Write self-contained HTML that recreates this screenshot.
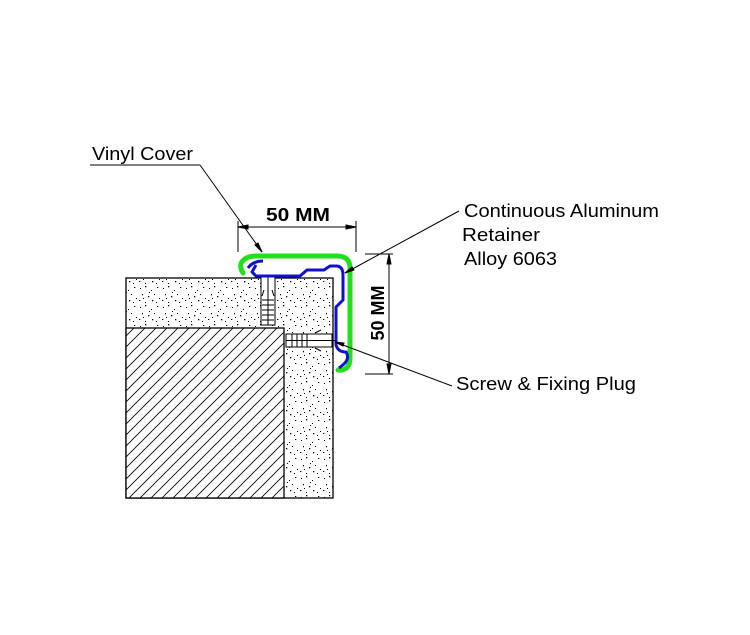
<!DOCTYPE html>
<html><head><style>html,body{margin:0;padding:0;background:#fff;}svg{display:block}</style></head>
<body>
<svg width="750" height="635" viewBox="0 0 750 635" xmlns="http://www.w3.org/2000/svg" font-family="Liberation Sans, Arial, sans-serif">
<defs>
<pattern id="dots" width="23" height="19" patternUnits="userSpaceOnUse">
<rect width="23" height="19" fill="#fff"/>
<g fill="#000">
<rect x="2" y="3" width="1" height="1"/><rect x="7" y="1" width="1.3" height="1.3"/><rect x="13" y="5" width="1" height="1"/><rect x="19" y="2" width="1.3" height="1"/>
<rect x="4" y="9" width="1" height="1.3"/><rect x="10" y="11" width="1.3" height="1.3"/><rect x="16" y="9" width="1" height="1"/><rect x="21" y="13" width="1" height="1"/>
<rect x="1" y="15" width="1.3" height="1"/><rect x="7" y="17" width="1" height="1"/><rect x="14" y="15" width="1.3" height="1.3"/><rect x="18" y="17" width="1" height="1"/>
<rect x="11" y="7" width="1" height="1"/><rect x="5" y="13" width="1" height="1"/>
</g>
</pattern>
<pattern id="hatch" width="11" height="11" patternUnits="userSpaceOnUse">
<rect width="11" height="11" fill="#fff"/>
<path d="M-2,13 L13,-2 M-2,2 L2,-2 M9,13 L13,9" stroke="#000" stroke-width="0.8"/>
</pattern>
</defs>

<rect x="126" y="278" width="207" height="220" fill="url(#dots)" stroke="#000" stroke-width="1.3"/>
<rect x="126" y="328" width="158" height="170" fill="url(#hatch)" stroke="#000" stroke-width="1.3"/>

<g stroke="#000" stroke-width="1" fill="#fff">
<rect x="261" y="277" width="14" height="48"/>
<line x1="268" y1="277" x2="268" y2="325"/>
<path d="M262,300 h12 M262,305 h12 M262,310 h12 M262,315 h12 M262,320 h12" fill="none"/>
<path d="M264,290 l-2,6 M272,290 l2,6" fill="none"/>
</g>
<g stroke="#000" stroke-width="1" fill="#fff">
<rect x="286" y="334" width="46" height="13"/>
<line x1="286" y1="340.5" x2="335" y2="340.5"/>
<path d="M292,334 v13 M297,334 v13 M302,334 v13 M307,334 v13" fill="none"/>
<path d="M315,333 l6,-3 M315,348 l6,3" fill="none"/>
</g>

<path d="M243,273 C236,262 246,256 256,256 L337,256 Q350,256 350,268 L350,358 Q350,371 338,370" fill="none" stroke="#22e01c" stroke-width="5" stroke-linecap="round"/>
<path d="M248,268 Q253,261 263,261 M256,265 L252,272 L256,276 L300,276 L307,270 L324,270 L330,266 L336,266 Q343,266 343,275 L343,300 L336,307 L336,345 Q338,352 346,352 Q350,358 344,364 L339,368" fill="none" stroke="#1010d0" stroke-width="3" stroke-linejoin="round"/>

<g stroke="#000" stroke-width="1" fill="#000">
<line x1="238" y1="221" x2="238" y2="252"/>
<line x1="356" y1="221" x2="356" y2="252"/>
<line x1="238" y1="227" x2="356" y2="227"/>
<path d="M238,227 l10,-2 v4z M356,227 l-10,-2 v4z"/>
<line x1="365" y1="254" x2="393" y2="254"/>
<line x1="365" y1="374" x2="393" y2="374"/>
<line x1="389" y1="254" x2="389" y2="374"/>
<path d="M389,254 l-2,10 h4z M389,374 l-2,-10 h4z"/>
</g>
<text x="266" y="221" font-size="18" font-weight="bold" textLength="64" lengthAdjust="spacingAndGlyphs">50 MM</text>
<text transform="translate(384,313) rotate(-90)" font-size="18" font-weight="bold" text-anchor="middle">50 MM</text>

<g stroke="#000" stroke-width="1" fill="#000">
<line x1="90" y1="165" x2="200" y2="165"/>
<line x1="200" y1="165" x2="262" y2="252"/>
<path d="M262,252 l-7,-7 l3,-2z"/>
<line x1="459" y1="211" x2="345" y2="273"/>
<path d="M345,273 l7,-6 l2,3z"/>
<line x1="452" y1="386" x2="335" y2="342"/>
<path d="M335,342 l9,1 l-1,3z"/>
</g>

<g font-size="18" fill="#000">
<text x="92" y="160" textLength="101" lengthAdjust="spacingAndGlyphs">Vinyl Cover</text>
<text x="464" y="217" textLength="195" lengthAdjust="spacingAndGlyphs">Continuous Aluminum</text>
<text x="462" y="241" textLength="78" lengthAdjust="spacingAndGlyphs">Retainer</text>
<text x="464" y="265" textLength="93" lengthAdjust="spacingAndGlyphs">Alloy 6063</text>
<text x="456" y="390" textLength="180" lengthAdjust="spacingAndGlyphs">Screw &amp; Fixing Plug</text>
</g>
</svg>
</body></html>
